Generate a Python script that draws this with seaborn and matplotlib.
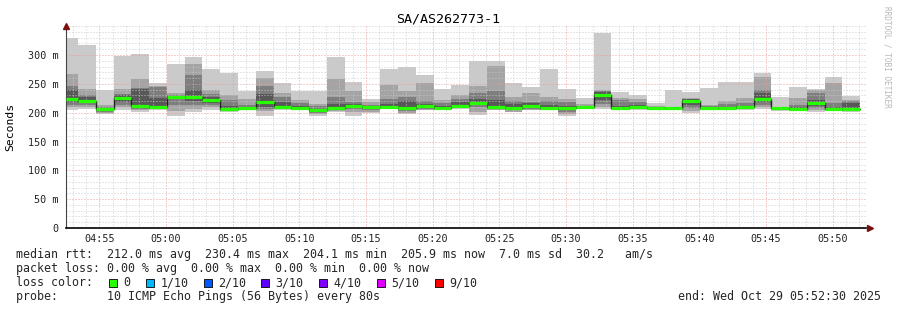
import matplotlib
matplotlib.use("Agg")
import matplotlib.pyplot as plt
from matplotlib.patches import Rectangle
import numpy as np
import pandas as pd
import seaborn as sns

# ---------------- data (ms), one value per 80 s step ----------------
p1 = [205, 206, 197, 205, 202, 205, 195, 202, 205, 202, 204, 195, 205, 204.5, 195, 202, 195, 199, 207, 197,
      204, 204.5, 207, 196.5, 204.5, 200.5, 204, 204, 194, 207, 206, 204.5, 204.5, 204.5, 204, 199, 204.5, 204.5,
      204.5, 206, 203, 203, 202, 203, 201]
p2 = [210, 209, 200, 209, 204, 206, 203, 207, 209, 203, 205, 203, 206, 205, 198, 203.5, 202, 202, 207.5, 200,
      205, 205, 208, 201, 205, 202, 205, 204.5, 198, 208, 210, 205, 206, 205.5, 205, 203, 205, 205,
      205.5, 209, 204, 204, 205, 204, 203]
p3 = [214, 213, 202, 214, 206, 207, 214, 214, 213, 203.5, 205.5, 206, 207, 206, 200, 205, 206, 204, 208, 203,
      207, 206, 209, 209, 206, 204, 207, 205, 202, 209, 215, 205.5, 207, 206, 205.5, 208, 206, 206,
      207, 214, 205, 205, 208, 205, 204]
p4 = [218, 216, 204, 218, 208, 208, 226, 220, 217, 204, 206, 210, 208, 207, 202, 207, 209, 206, 209, 205,
      209, 207, 210, 213, 207, 206, 209, 206, 205, 209.5, 222, 206, 208, 206.5, 206.5, 213, 207, 206.5,
      209, 218, 206, 205.5, 212, 205.5, 205]
p5 = [223, 220, 206, 224, 210, 209, 227, 227, 222, 205, 207, 218, 210, 207.5, 204, 208, 211, 208.5, 210, 207,
      211, 207.5, 211, 216, 208, 207, 211, 207, 207, 210, 230, 207, 209.5, 207, 207, 220, 207.5, 207,
      210, 223, 207, 206, 217, 206, 206]
p6 = [225, 222, 208, 226, 212, 211, 229, 229, 223, 207, 208, 220, 211, 208.5, 205, 209, 213, 209.5, 211, 209,
      213, 208.5, 212, 218, 210, 208, 213, 208, 208, 211, 232, 208, 210.5, 208, 208, 222, 208.5, 208,
      211, 225, 208, 207, 218, 207, 207]
p7 = [239, 227, 208.5, 231, 241, 225, 229.5, 240, 227, 212, 210, 233, 218, 211, 207, 215, 215, 211, 215, 220,
      215, 212, 218, 224, 222, 215, 216, 213, 212, 211, 235, 212, 213, 209, 208.5, 223, 209.5, 210,
      212, 234, 208, 209, 222, 210, 216]
p8 = [246, 231, 210, 233, 243, 244, 231, 266, 232, 222, 214, 246, 227, 216, 211, 227, 218.5, 213, 224, 228,
      220, 217, 224, 234, 237, 221, 218.5, 220, 218, 212, 238, 222, 218, 210, 209, 224, 211, 215,
      216, 239, 208.5, 213, 234, 216, 219.5]
p9 = [267, 241, 213, 241, 259, 247, 234, 284, 240, 231, 224, 260, 234, 222.5, 215, 259, 237, 218.5, 248.5, 238,
      251, 222.5, 231, 245.5, 281.5, 228, 234, 228, 224, 215, 240, 225.5, 224, 212, 210, 225.5, 214, 221,
      225.5, 262, 209, 225, 239, 251.5, 222.5]
p10 = [329, 318, 239, 298, 302, 251, 285, 296, 276, 269, 238, 272, 251, 238, 237, 296.5, 253, 223, 276, 280,
       266, 241, 248.5, 290, 290, 251.5, 244.5, 276, 241, 225.5, 338.5, 236, 230, 216.5, 240, 236, 243, 253,
       253, 269, 226.5, 244.5, 241, 262, 229.5]

x_tick_labels = ["04:55", "05:00", "05:05", "05:10", "05:15", "05:20", "05:25", "05:30",
                 "05:35", "05:40", "05:45", "05:50"]
y_tick_values = [0, 50, 100, 150, 200, 250, 300]
y_tick_labels = ["0", "50 m", "100 m", "150 m", "200 m", "250 m", "300 m"]

loss_labels = ["0", "1/10", "2/10", "3/10", "4/10", "5/10", "9/10"]
loss_colors = ["#26ff00", "#00b8ff", "#0059ff", "#5e00ff", "#7e00ff", "#dd00ff", "#ff0000"]

title = "SA/AS262773-1"
row1 = "median rtt:  212.0 ms avg  230.4 ms max  204.1 ms min  205.9 ms now  7.0 ms sd  30.2   am/s"
row2 = "packet loss: 0.00 % avg  0.00 % max  0.00 % min  0.00 % now"
row3 = "loss color:"
row4 = "probe:       10 ICMP Echo Pings (56 Bytes) every 80s"
end_text = "end: Wed Oct 29 05:52:30 2025"

# ---------------- layout ----------------
W, H = 897, 310
sns.set_theme(style="white")
plt.rcParams["font.family"] = ["DejaVu Sans Mono", "DejaVu Sans"]

fig = plt.figure(figsize=(W / 100, H / 100), dpi=100)
fig.patch.set_facecolor("white")
ax = fig.add_axes([66 / W, (H - 228) / H, 800 / W, 202 / H])
ax.set_facecolor("white")

n = len(p1)
step = 80 / 60.0
edges = np.concatenate([[0.0], 0.9 + step * np.arange(n)])  # minutes since 04:52:30

pings = [np.array(p, dtype=float) for p in (p1, p2, p3, p4, p5, p6, p7, p8, p9, p10)]
smoke = ["#cacaca", "#a4a4a4", "#7e7e7e", "#585858", "#323232"]
for i in range(5):
    lo = np.append(pings[i], pings[i][-1])
    hi = np.append(pings[9 - i], pings[9 - i][-1])
    ax.fill_between(edges, lo, hi, step="post", color=smoke[i], linewidth=0, zorder=1)

median = (pings[4] + pings[5]) / 2.0
df = pd.DataFrame({"t": edges, "median": np.append(median, median[-1])})
sns.lineplot(data=df, x="t", y="median", ax=ax, estimator=None, drawstyle="steps-post",
             color="#202020", linewidth=1.0, zorder=3)
ax.hlines(median, edges[:-1], edges[1:], colors=loss_colors[0], linewidth=2.3, zorder=4,
          capstyle="butt")

ax.set_xlim(0, 60)
ax.set_ylim(0, 350.3)

# grid
xt = 2.5 + 5 * np.arange(len(x_tick_labels))
ax.set_xticks(xt)
ax.set_xticklabels(x_tick_labels)
ax.set_xticks(np.arange(0.5, 60, 1.0), minor=True)
ax.set_yticks(y_tick_values)
ax.set_yticklabels(y_tick_labels)
ax.set_yticks(np.arange(0, 351, 10), minor=True)
ax.set_axisbelow("line")
ax.grid(True, which="minor", color="#c8c8c8", linestyle=(0, (1, 2)), linewidth=0.72, alpha=0.9)
ax.grid(True, which="major", color="#f09898", linestyle=(0, (1, 2)), linewidth=0.72, alpha=0.95)

ax.tick_params(axis="both", which="major", labelsize=7.3, colors="#000000", length=3, width=0.7,
               direction="inout", pad=3)
ax.tick_params(axis="y", which="major", pad=4)
ax.tick_params(axis="both", which="minor", length=0)
for lab in ax.get_xticklabels() + ax.get_yticklabels():
    lab.set_color("#222222")

for s in ["top", "right"]:
    ax.spines[s].set_visible(False)
ax.spines["left"].set_color("#444444")
ax.spines["left"].set_linewidth(0.8)
ax.spines["bottom"].set_color("#000000")
ax.spines["bottom"].set_linewidth(1.2)
ax.set_xlabel("")
ax.set_ylabel("")

# axis arrows
arrow_c = "#7a1010"
ax.plot([0], [1.0], marker="^", markersize=4.5, color=arrow_c, transform=ax.transAxes, clip_on=False, zorder=6)
ax.plot([1.005], [0], marker=">", markersize=4.5, color=arrow_c, transform=ax.transAxes, clip_on=False, zorder=6)

def fx(px):
    return px / W

def fy(py):
    return 1 - py / H

fig.text(fx(448), fy(19), title, ha="center", va="center", fontsize=9.6, color="#000000")
fig.text(fx(10), fy(127), "Seconds", ha="center", va="center", rotation=90, fontsize=8.2, color="#000000")
fig.text(fx(887), fy(6), "RRDTOOL / TOBI OETIKER", ha="center", va="top", rotation=270,
         fontsize=5.6, color="#b8b8b8")

fs = 8.4
fig.text(fx(16), fy(254.5), row1, ha="left", va="center", fontsize=fs)
fig.text(fx(16), fy(268.5), row2, ha="left", va="center", fontsize=fs)
fig.text(fx(16), fy(282.7), row3, ha="left", va="center", fontsize=fs)
fig.text(fx(16), fy(296.7), row4, ha="left", va="center", fontsize=fs)
fig.text(fx(881), fy(296.7), end_text, ha="right", va="center", fontsize=fs)

box_x = [109, 146, 203.5, 261, 319, 377, 435]
for bx, lab, col in zip(box_x, loss_labels, loss_colors):
    fig.add_artist(Rectangle((fx(bx), fy(287)), 8 / W, 8 / H, transform=fig.transFigure,
                             facecolor=col, edgecolor="#000000", linewidth=0.6))
    fig.text(fx(bx + 14.5), fy(282.7), lab, ha="left", va="center", fontsize=fs)

fig.savefig("out.png", dpi=100, facecolor="white")
